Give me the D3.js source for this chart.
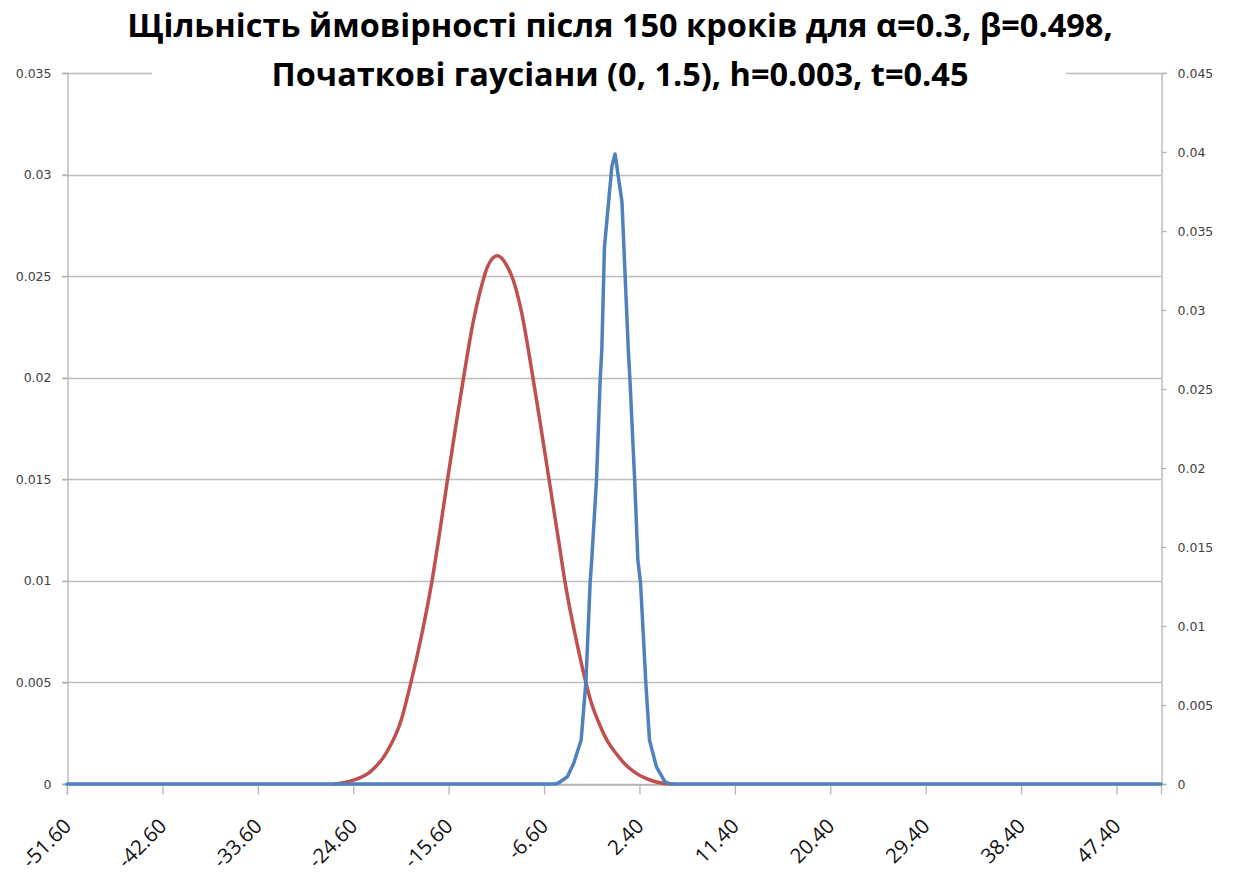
<!DOCTYPE html>
<html>
<head>
<meta charset="utf-8">
<script src="https://cdn.jsdelivr.net/npm/d3@7"></script>
<style>
  html, body { margin: 0; padding: 0; background: #fff; }
  svg { display: block; }
</style>
</head>
<body>
<svg id="chart" width="1235" height="881"></svg>
<script>
// ---- data ----
const titleLines = [
  "Щільність ймовірності після 150 кроків для α=0.3, β=0.498,",
  "Початкові гаусіани (0, 1.5), h=0.003, t=0.45"
];
const xTicks = [-51.6, -42.6, -33.6, -24.6, -15.6, -6.6, 2.4, 11.4, 20.4, 29.4, 38.4, 47.4];
const xDomain = [-51.6, 51.6];
const leftTicks = [0, 0.005, 0.01, 0.015, 0.02, 0.025, 0.03, 0.035];
const leftTickLabels = ["0", "0.005", "0.01", "0.015", "0.02", "0.025", "0.03", "0.035"];
const rightTicks = [0, 0.005, 0.01, 0.015, 0.02, 0.025, 0.03, 0.035, 0.04, 0.045];
const rightTickLabels = ["0", "0.005", "0.01", "0.015", "0.02", "0.025", "0.03", "0.035", "0.04", "0.045"];

// red series (left axis)
const redX = [-26.4, -24.5, -23.0, -21.4, -20.1, -19.2, -18.2, -17.2, -16.5, -15.7, -14.9, -14.1, -13.3, -12.7, -11.9, -11.0, -10.2, -9.5, -8.75, -7.74, -7.0, -6.13, -5.2, -4.64, -3.4, -2.75, -2.2, -1.5, -0.6, 0.2, 1.0, 1.9, 2.9, 4.0, 5.5];
const redY = [0, 0.0002, 0.0006, 0.0016, 0.0031, 0.0049, 0.0072, 0.0099, 0.0122, 0.0150, 0.0177, 0.0203, 0.0227, 0.0241, 0.0255, 0.0260, 0.0256, 0.0248, 0.0233, 0.0203, 0.0179, 0.0150, 0.0119, 0.0100, 0.0067, 0.0052, 0.0041, 0.0031, 0.0021, 0.0015, 0.0010, 0.0006, 0.0003, 0.0001, 0];

// blue series (right axis)
const blueX = [-51.6, -5.5, -5.2, -4.4, -3.8, -3.1, -2.65, -2.25, -2.1, -1.65, -1.3, -1.15, -0.9, -0.2, 0.1, 0.75, 1.35, 1.5, 1.95, 2.25, 2.5, 3.0, 3.35, 4.0, 4.8, 5.25, 51.6];
const blueY = [0, 0, 0.00008, 0.00046, 0.00131, 0.00278, 0.00644, 0.01277, 0.01418, 0.01924, 0.02565, 0.02747, 0.0340, 0.0391, 0.03987, 0.03685, 0.02747, 0.02565, 0.01924, 0.01418, 0.01277, 0.00644, 0.00278, 0.00109, 0.00015, 0, 0];

// ---- layout ----
const L = 67, R = 1161, T = 73, B = 784;
const svg = d3.select("#chart");

const x = d3.scaleLinear().domain(xDomain).range([L, R]);
const yL = d3.scaleLinear().domain([0, 0.035]).range([B, T]);
const yR = d3.scaleLinear().domain([0, 0.045]).range([B, T]);

const gridColor = "#bdbdbd";
const axisColor = "#b3b3b3";

// gridlines (left axis)
svg.append("g").selectAll("line").data(leftTicks).join("line")
  .attr("x1", L - 5).attr("x2", R)
  .attr("y1", d => Math.round(yL(d)) + 0.5).attr("y2", d => Math.round(yL(d)) + 0.5)
  .attr("stroke", gridColor).attr("stroke-width", 1.3);

// left axis
const gl = svg.append("g").attr("transform", `translate(${L + 0.5},0)`)
  .call(d3.axisLeft(yL).tickValues(leftTicks).tickSize(5).tickPadding(11)
    .tickFormat((d, i) => leftTickLabels[i]));
gl.select(".domain").attr("stroke", axisColor).attr("stroke-width", 1.3);
gl.selectAll(".tick line").attr("stroke", axisColor).attr("stroke-width", 1.3);
gl.selectAll(".tick text").attr("font-family", "'DejaVu Sans', sans-serif")
  .attr("font-size", 12.5).attr("fill", "#404040");

// right axis
const gr = svg.append("g").attr("transform", `translate(${R + 0.5},0)`)
  .call(d3.axisRight(yR).tickValues(rightTicks).tickSize(5).tickPadding(11)
    .tickFormat((d, i) => rightTickLabels[i]));
gr.select(".domain").attr("stroke", axisColor).attr("stroke-width", 1.3);
gr.selectAll(".tick line").attr("stroke", axisColor).attr("stroke-width", 1.3);
gr.selectAll(".tick text").attr("font-family", "'DejaVu Sans', sans-serif")
  .attr("font-size", 12.5).attr("fill", "#404040");

// bottom axis
const gb = svg.append("g").attr("transform", `translate(0,${B + 0.5})`)
  .call(d3.axisBottom(x).tickValues(xTicks).tickSize(10).tickFormat(d => d.toFixed(2)));
gb.select(".domain").attr("stroke", axisColor).attr("stroke-width", 1.3);
gb.selectAll(".tick line").attr("stroke", axisColor).attr("stroke-width", 1.3);
gb.selectAll(".tick text")
  .attr("font-family", "'Open Sans', sans-serif").attr("font-size", 20.5).attr("fill", "#111")
  .attr("text-anchor", "end").attr("dy", null).attr("y", null)
  .attr("transform", "translate(5,43) rotate(-45)");

// title white box (covers top gridline like the reference)
svg.append("rect").attr("x", 152).attr("y", 0).attr("width", 914).attr("height", 100).attr("fill", "#fff");

// lines
const redData = redX.map((v, i) => [v, redY[i]]);
const blueData = blueX.map((v, i) => [v, blueY[i]]);

svg.append("path").datum(redData)
  .attr("fill", "none").attr("stroke", "#C0504D").attr("stroke-width", 3.5)
  .attr("stroke-linejoin", "round").attr("stroke-linecap", "round")
  .attr("d", d3.line().x(d => x(d[0])).y(d => yL(d[1])).curve(d3.curveMonotoneX));

svg.append("path").datum(blueData)
  .attr("fill", "none").attr("stroke", "#4F81BD").attr("stroke-width", 3.5)
  .attr("stroke-linejoin", "round").attr("stroke-linecap", "round")
  .attr("d", d3.line().x(d => x(d[0])).y(d => yR(d[1])));

// title
svg.append("g").selectAll("text").data(titleLines).join("text")
  .attr("x", 620).attr("y", (d, i) => 37 + i * 49)
  .attr("text-anchor", "middle")
  .attr("font-family", "'Open Sans', sans-serif").attr("font-weight", "bold")
  .attr("font-size", 32.5).attr("fill", "#000")
  .text(d => d);
</script>
</body>
</html>
